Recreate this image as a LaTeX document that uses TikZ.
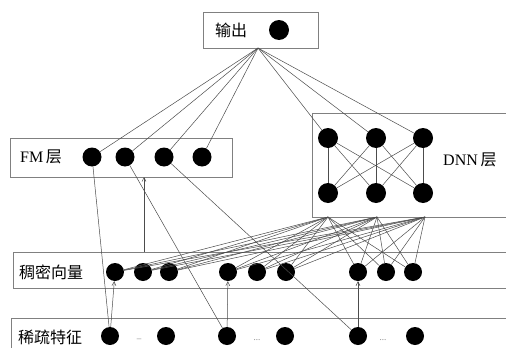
\documentclass[tikz,border=0pt]{standalone}
\usepackage{fontspec}
\setmainfont{Liberation Serif}
\newfontfamily\cjk{Noto Sans CJK SC}
\usetikzlibrary{arrows.meta}
\begin{document}
\begin{tikzpicture}[x=1pt,y=-1pt,
  neuron/.style={circle,fill=black,inner sep=0pt,minimum size=#1},
  neuron/.default=19pt,
  frame/.style={draw=black!50,line width=0.7pt},
  conn/.style={draw=black!70,line width=0.5pt},
  uparrow/.style={conn,-{Straight Barb[length=4pt,width=4pt]}},
  lbl/.style={inner sep=0pt,font=\fontsize{16}{16}\selectfont},
  dots/.style={inner sep=0pt,text=black!50,font=\fontsize{9}{9}\selectfont}]
\useasboundingbox (0,0) rectangle (506,348);
\fill[white] (0,0) rectangle (506,348);

% frames
\draw[frame] (203,12) rectangle (318,48);
\draw[frame] (10,138) rectangle (232,177);
\draw[frame] (506,113) -- (312,113) -- (312,217) -- (506,217);
\draw[frame] (506,252) -- (13,252) -- (13,288) -- (506,288);
\draw[frame] (506,318) -- (11,318) -- (11,349);

% labels
\node[lbl,anchor=west] (tout) at (215,30) {\cjk 输出};
\node[lbl,anchor=west] (tfm) at (20,157) {FM\,{\cjk 层}};
\node[lbl,anchor=west] (tdnn) at (443,160) {DNN\,{\cjk 层}};
\node[lbl,anchor=west] (tdense) at (19,272) {\cjk 稠密向量};
\node[lbl,anchor=west] (tsparse) at (18,337) {\cjk 稀疏特征};

% neurons
\node[neuron=20pt] (out) at (279,30) {};
\node[neuron] (f1) at (92,157) {};
\node[neuron] (f2) at (125,157) {};
\node[neuron] (f3) at (164,157) {};
\node[neuron] (f4) at (202,157) {};
\node[neuron=20pt] (t1) at (328,138) {};
\node[neuron=20pt] (t2) at (376,138) {};
\node[neuron=20pt] (t3) at (423,138) {};
\node[neuron=20pt] (b1) at (328,193) {};
\node[neuron=20pt] (b2) at (376,193) {};
\node[neuron=20pt] (b3) at (423,193) {};
\foreach \i/\x in {1/115,2/143,3/169,4/228,5/257,6/286,7/358,8/386,9/413}
  \node[neuron=18pt] (d\i) at (\x,272) {};
\foreach \i/\x in {1/110,2/166,3/227,4/285,5/358,6/415}
  \node[neuron=18pt] (s\i) at (\x,336) {};
\node[dots] (g1) at (139,340) {--};
\node[dots] (g2) at (257,340) {...};
\node[dots] (g3) at (383,340) {...};

% coordinates
\coordinate (oc) at (258,48);
\coordinate (c1) at (328,217);
\coordinate (c2) at (377,217);
\coordinate (c3) at (425,217);
\coordinate (dtop) at (144,252);
\coordinate (fbot) at (144,177);

% output connections
\foreach \n in {f1,f2,f3,f4,t1,t2,t3}
  \draw[conn] (oc) -- (\n);
% DNN internal
\foreach \a in {t1,t2,t3}
  \foreach \b in {b1,b2,b3}
    \draw[conn] (\a) -- (\b);
% dense to DNN
\foreach \i in {1,...,9}
  \foreach \c in {c1,c2,c3}
    \draw[conn] (d\i) -- (\c);
% FM first-order links
\draw[conn] (f1) -- (s1);
\draw[conn] (f2) -- (s3);
\draw[conn] (f3) -- (s5);
% embeddings
\draw[uparrow] (s1) -- (d1);
\draw[uparrow] (s3) -- (d4);
\draw[uparrow] (s5) -- (d7);
\draw[uparrow] (dtop) -- (fbot);
\end{tikzpicture}
\end{document}
